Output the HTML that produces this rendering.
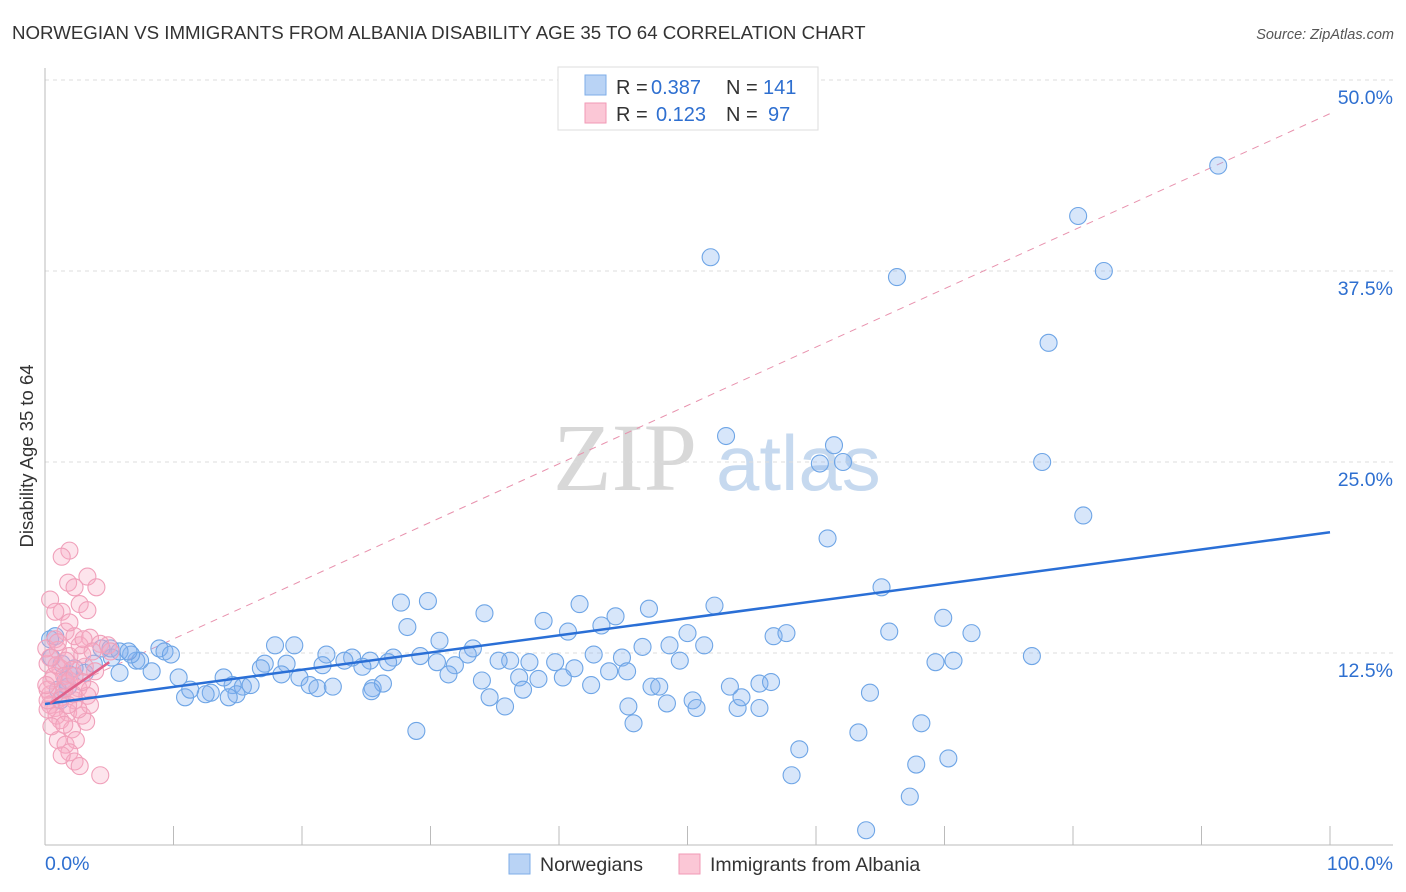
<!DOCTYPE html>
<html><head><meta charset="utf-8">
<style>
body{margin:0;background:#fff;font-family:"Liberation Sans",sans-serif;}
svg{display:block}
</style></head>
<body>
<svg width="1406" height="892" xmlns="http://www.w3.org/2000/svg">
<text x="12" y="39" font-size="18.7" fill="#333">NORWEGIAN VS IMMIGRANTS FROM ALBANIA DISABILITY AGE 35 TO 64 CORRELATION CHART</text>
<text x="1394" y="39" font-size="14.5" fill="#555" font-style="italic" text-anchor="end">Source: ZipAtlas.com</text>
<g>
<text x="553" y="490" font-size="96" font-family="Liberation Serif,serif" fill="#d8d8d8">ZIP</text>
<text x="716" y="490" font-size="78" fill="#c6d9ef">atlas</text>
</g>
<g id="grid"></g>
<g id="axes"></g>
<g id="trend"></g>
<g id="pts"></g>
<text x="33" y="456" font-size="18.5" fill="#333" transform="rotate(-90 33 456)" text-anchor="middle">Disability Age 35 to 64</text>
<g>
<rect x="558" y="67" width="260" height="63" fill="#fff" stroke="#ddd"/>
<rect x="585" y="75" width="21" height="20" fill="#b9d3f5" stroke="#7eaee8"/>
<rect x="585" y="103" width="21" height="20" fill="#fbc7d6" stroke="#f19ab6"/>
<g font-size="20" fill="#333">
<text x="616" y="94">R =</text><text x="651" y="94" fill="#2e6fd0">0.387</text>
<text x="726" y="94">N =</text><text x="763" y="94" fill="#2e6fd0">141</text>
<text x="616" y="121">R =</text><text x="656" y="121" fill="#2e6fd0">0.123</text>
<text x="726" y="121">N =</text><text x="768" y="121" fill="#2e6fd0">97</text>
</g>
</g>
<g>
<rect x="509" y="854" width="21" height="20" fill="#b9d3f5" stroke="#7eaee8"/>
<text x="540" y="871" font-size="19.5" fill="#333">Norwegians</text>
<rect x="679" y="854" width="21" height="20" fill="#fbc7d6" stroke="#f19ab6"/>
<text x="710" y="871" font-size="19.5" fill="#333">Immigrants from Albania</text>
</g>
</svg>
<script>
const blueX=[51.8,91.3,80.4,82.4,66.3,78.1,53.0,61.4,60.3,62.1,77.6,80.8,60.9,65.1,52.1,47.0,41.6,44.4,38.8,27.7,29.8,34.2,28.2,40.7,43.3,50.0,56.7,57.7,65.7,69.9,72.1,51.3,46.5,48.6,42.7,44.9,39.7,37.7,36.2,35.3,41.2,43.9,49.4,76.8,69.3,70.7,30.7,33.3,32.9,31.9,30.5,29.2,27.1,26.7,25.3,24.7,23.9,23.3,21.9,21.6,19.4,17.9,17.1,18.8,16.8,18.4,19.8,20.6,21.2,22.4,25.5,26.3,25.4,31.4,34.0,36.9,38.4,40.3,42.5,45.3,47.2,47.8,37.2,34.6,35.8,45.4,48.4,50.4,50.7,53.9,54.2,53.3,55.6,56.5,55.6,64.2,45.8,28.9,68.2,63.3,58.7,70.3,67.8,58.1,67.3,63.9,14.6,15.4,16.0,14.9,12.9,12.5,14.3,10.9,11.3,10.4,13.9,8.3,5.8,3.1,5.2,3.8,7.1,7.4,6.7,8.9,9.3,9.8,4.4,5.1,5.8,6.5,0.4,0.8,0.5,1.3,2.3,1.9,1.6,1.0,1.2,1.8];
const blueY=[38.4,44.4,41.1,37.5,37.1,32.8,26.7,26.1,24.9,25.0,25.0,21.5,20.0,16.8,15.6,15.4,15.7,14.9,14.6,15.8,15.9,15.1,14.2,13.9,14.3,13.8,13.6,13.8,13.9,14.8,13.8,13.0,12.9,13.0,12.4,12.2,11.9,11.9,12.0,12.0,11.5,11.3,12.0,12.3,11.9,12.0,13.3,12.8,12.4,11.7,11.9,12.3,12.2,11.9,12.0,11.6,12.2,12.0,12.4,11.7,13.0,13.0,11.8,11.8,11.5,11.1,10.9,10.4,10.2,10.3,10.2,10.5,10.0,11.1,10.7,10.9,10.8,10.9,10.4,11.3,10.3,10.3,10.1,9.6,9.0,9.0,9.2,9.4,8.9,8.9,9.6,10.3,10.5,10.6,8.9,9.9,7.9,7.4,7.9,7.3,6.2,5.6,5.2,4.5,3.1,0.9,10.4,10.3,10.4,9.8,9.9,9.8,9.6,9.6,10.1,10.9,10.9,11.3,11.2,11.2,12.2,11.8,12.0,12.0,12.4,12.8,12.6,12.4,12.8,12.8,12.6,12.6,13.4,13.6,12.2,11.8,11.5,11.1,10.7,10.1,9.4,10.3];
const pinkX=[1.9,1.3,1.8,2.3,3.3,4.0,0.4,2.7,1.3,3.3,1.6,2.3,3.5,0.8,1.0,1.9,2.9,0.2,1.2,2.1,3.1,3.9,0.5,1.6,2.6,3.5,0.4,1.3,2.3,3.3,0.8,1.8,2.9,1.2,2.1,3.2,1.0,1.6,2.4,1.9,2.3,1.3,2.7,4.3,0.4,0.2,0.7,1.5,2.2,0.9,1.6,2.7,4.3,4.9,5.1,0.1,0.4,1.0,1.5,1.9,2.9,0.2,0.9,0.5,1.5,3.5,2.6,1.8,0.2,2.3,0.8,1.9,3.0,3.7,0.1];
const pinkY=[19.2,18.8,17.1,16.8,17.5,16.8,16.0,15.7,15.2,15.3,13.9,13.6,13.5,13.4,12.7,12.3,12.4,11.8,11.5,11.4,11.6,11.3,10.7,10.5,10.2,10.1,9.8,9.6,9.4,9.7,8.9,8.6,8.4,8.1,7.5,8.0,6.8,6.5,6.8,6.0,5.4,5.8,5.1,4.5,9.1,10.1,11.0,10.1,9.8,11.7,12.0,13.0,13.1,13.0,12.6,12.8,12.2,13.2,11.0,10.7,10.6,8.8,8.4,7.7,7.8,9.1,8.8,9.1,9.4,11.0,15.2,14.5,13.4,12.6,10.4];
const yTicks=[12.5,25.0,37.5,50.0];
const yTickLabels=["12.5%","25.0%","37.5%","50.0%"];
const blueTrend=[[0,9.16],[100,20.4]];
const pinkTrend=[[0.4,9.2],[5,11.9]];
const pinkDash=[[0,9.6],[100,47.8]];
const NS="http://www.w3.org/2000/svg";
const X0=45,X1=1330,Y0=844,PXPER=191/12.5;
const sx=v=>X0+(X1-X0)*v/100, sy=v=>Y0-v*PXPER;
function mk(tag,attrs,parent){const e=document.createElementNS(NS,tag);for(const k in attrs)e.setAttribute(k,attrs[k]);parent.appendChild(e);return e;}
const grid=document.getElementById('grid'),axes=document.getElementById('axes'),trend=document.getElementById('trend'),pts=document.getElementById('pts');
yTicks.forEach((t,i)=>{
 const l=mk('line',{x1:X0,x2:1393,y1:sy(t),y2:sy(t),stroke:'#ddd','stroke-dasharray':'4,4'},grid);
 
 
 const tx=mk('text',{x:1393,y:sy(t)+24,'font-size':19.5,fill:'#2e6fd0','text-anchor':'end'},grid);
 tx.textContent=yTickLabels[i];
 
 
});
let a=mk('line',{x1:X0,x2:X0,y1:68,y2:845,stroke:'#bbb'},axes);


a=mk('line',{x1:X0,x2:1393,y1:845,y2:845,stroke:'#bbb'},axes);


for(let i=1;i<=10;i++){const t=mk('line',{x1:sx(i*10),x2:sx(i*10),y1:826,y2:845,stroke:'#bbb'},axes);
 
 }
let t0=mk('text',{x:X0,y:870,'font-size':19.5,fill:'#2e6fd0'},axes);t0.textContent='0.0%';


t0=mk('text',{x:1393,y:870,'font-size':19.5,fill:'#2e6fd0','text-anchor':'end'},axes);t0.textContent='100.0%';


let ln=mk('line',{x1:sx(pinkDash[0][0]),y1:sy(pinkDash[0][1]),x2:sx(pinkDash[1][0]),y2:sy(pinkDash[1][1]),stroke:'#e891ad','stroke-dasharray':'7,6','stroke-width':1},trend);


blueX.forEach((x,i)=>{const c=mk('circle',{cx:sx(x),cy:sy(blueY[i]),r:8.5,fill:'rgba(130,178,238,0.32)',stroke:'#6ea5e6','stroke-width':1.1},pts);
 
 });
pinkX.forEach((x,i)=>{const c=mk('circle',{cx:sx(x),cy:sy(pinkY[i]),r:8.5,fill:'rgba(248,170,195,0.32)',stroke:'#f0a0ba','stroke-width':1.1},pts);
 
 });
ln=mk('line',{x1:sx(blueTrend[0][0]),y1:sy(blueTrend[0][1]),x2:sx(blueTrend[1][0]),y2:sy(blueTrend[1][1]),stroke:'#2a6fd6','stroke-width':2.5},pts);


ln=mk('line',{x1:sx(pinkTrend[0][0]),y1:sy(pinkTrend[0][1]),x2:sx(pinkTrend[1][0]),y2:sy(pinkTrend[1][1]),stroke:'#e0608a','stroke-width':2.5},pts);


</script>
</body></html>
